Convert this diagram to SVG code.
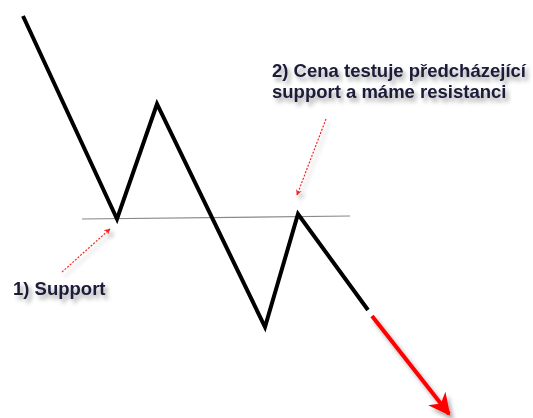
<svg xmlns="http://www.w3.org/2000/svg" width="533" height="418" viewBox="0 0 533 418">
<defs>
<style>
.lbl{font-family:"Liberation Sans",Arial,sans-serif;font-weight:bold;font-size:18.5px;fill:#1a1a38}
.price{fill:none;stroke:#000;stroke-width:4;stroke-linejoin:miter}
.hint{fill:none;stroke:#ff2020;stroke-width:1.2;stroke-dasharray:2 1.5}
</style>
<filter id="sh" x="-10%" y="-30%" width="130%" height="180%">
<feDropShadow dx="3" dy="4" stdDeviation="2" flood-color="#000" flood-opacity="0.35"/>
</filter>
<marker id="ah" viewBox="0 0 10 10" refX="9" refY="5" markerWidth="6" markerHeight="6" orient="auto" markerUnits="userSpaceOnUse">
<path d="M0,0 L10,5 L0,10 L3,5 Z" fill="#ff2020"/>
</marker>
<marker id="bigah" viewBox="0 0 10 10" refX="9" refY="5" markerWidth="24" markerHeight="22" orient="auto" markerUnits="userSpaceOnUse">
<path d="M0,0 L10,5 L0,10 L3,5 Z" fill="#ff0000"/>
</marker>
</defs>
<g id="support-line">
<line x1="82" y1="219" x2="350" y2="216" stroke="#888" stroke-width="1.2"/>
</g>
<g id="price-path">
<polyline class="price" points="23,16 117,219 157,104 265,327 298,214 368,310"/>
</g>
<g id="connectors">
<line class="hint" x1="62" y1="272" x2="110" y2="229" marker-end="url(#ah)" filter="url(#sh)"/>
<line class="hint" x1="326" y1="119" x2="297" y2="195" marker-end="url(#ah)" filter="url(#sh)"/>
<line x1="372" y1="316" x2="449" y2="414" stroke="#ff0000" stroke-width="4" marker-end="url(#bigah)" filter="url(#sh)"/>
</g>
<g id="label-support">
<text class="lbl" x="13" y="295" filter="url(#sh)">1) Support</text>
</g>
<g id="label-resistance">
<text class="lbl" x="272" y="77" filter="url(#sh)">2) Cena testuje předcházející</text>
<text class="lbl" x="272" y="98" filter="url(#sh)">support a máme resistanci</text>
</g>
</svg>
